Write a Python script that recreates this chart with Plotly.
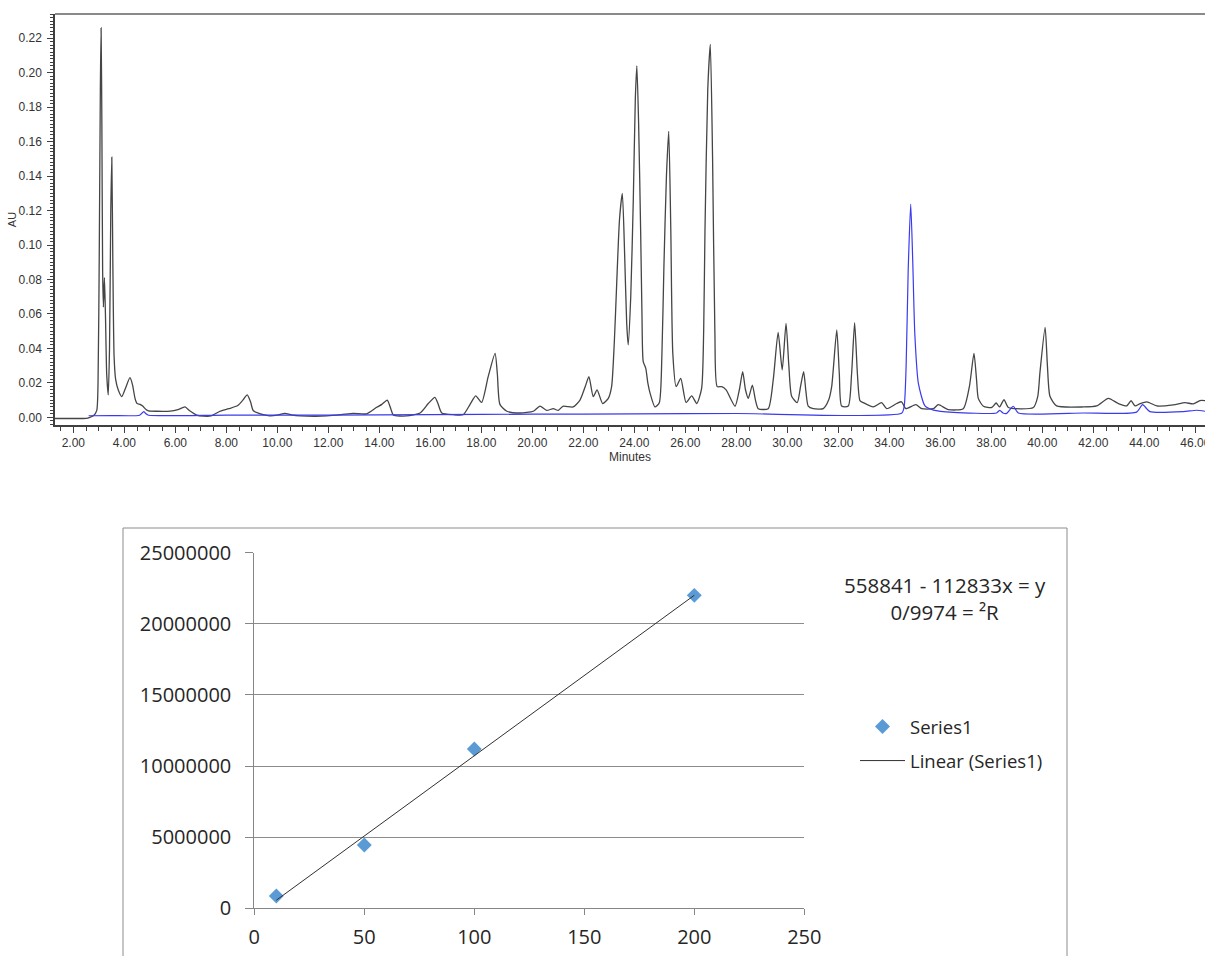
import plotly.graph_objects as go

# ---------------- Chromatogram data (minutes, AU) ----------------
black_t = [1.28, 2.0, 2.5, 2.65, 2.8, 2.92, 2.97, 3.02, 3.06, 3.09, 3.12, 3.15, 3.18, 3.22, 3.26, 3.31, 3.37,
           3.42, 3.47, 3.51, 3.55, 3.6, 3.66, 3.76, 3.9, 4.05, 4.22, 4.32, 4.42, 4.5, 4.62, 4.72, 4.85, 4.95,
           5.3, 5.8, 6.1, 6.38, 6.55, 6.84, 7.1, 7.4, 7.75, 8.1, 8.45, 8.65, 8.82, 8.95, 9.06, 9.45, 9.7, 10.0,
           10.3, 10.6, 10.9, 11.5, 11.94, 12.5, 12.98, 13.5, 13.9, 14.1, 14.31, 14.45, 14.55, 15.07, 15.6,
           15.92, 16.18, 16.3, 16.45, 16.9, 17.29, 17.56, 17.78, 18.01, 18.27, 18.54, 18.63, 18.73, 19.0,
           19.52, 20.04, 20.3, 20.56, 20.82, 21.02, 21.2, 21.6, 21.87, 22.08, 22.22, 22.39, 22.54, 22.76,
           22.98, 23.11, 23.22, 23.31, 23.42, 23.53, 23.62, 23.7, 23.76, 23.86, 23.96, 24.04, 24.1, 24.17,
           24.25, 24.3, 24.35, 24.45, 24.53, 24.62, 24.81, 24.98, 25.08, 25.16, 25.26, 25.35, 25.43, 25.51,
           25.64, 25.82, 26.03, 26.25, 26.45, 26.64, 26.72, 26.77, 26.88, 26.98, 27.07, 27.16, 27.25, 27.43,
           27.6, 27.95, 28.12, 28.25, 28.36, 28.47, 28.63, 28.75, 28.86, 29.25, 29.45, 29.64, 29.8, 29.95,
           30.06, 30.17, 30.39, 30.52, 30.64, 30.73, 30.82, 31.02, 31.41, 31.62, 31.74, 31.94, 32.04, 32.13,
           32.39, 32.52, 32.64, 32.75, 32.85, 32.98, 33.37, 33.7, 33.9, 34.29, 34.48, 34.65, 35.04, 35.27,
           35.73, 35.92, 36.31, 36.9, 37.14, 37.32, 37.42, 37.49, 37.69, 38.02, 38.19, 38.32, 38.5, 38.67,
           39.65, 39.82, 39.91, 40.11, 40.2, 40.3, 40.56, 41.61, 42.13, 42.59, 42.98, 43.31, 43.48, 43.64,
           43.84, 44.1, 44.49, 45.14, 45.6, 45.92, 46.18, 46.38]
black_au = [-0.0007, -0.0007, -0.0006, 0.0, 0.001, 0.004, 0.02, 0.1, 0.19, 0.226, 0.17, 0.085, 0.064, 0.081,
            0.06, 0.025, 0.013, 0.04, 0.12, 0.151, 0.09, 0.035, 0.022, 0.016, 0.012, 0.017, 0.023, 0.019,
            0.011, 0.008, 0.0075, 0.0065, 0.0045, 0.0037, 0.0035, 0.0036, 0.0045, 0.006, 0.004, 0.0013,
            0.0007, 0.0008, 0.0035, 0.005, 0.0068, 0.010, 0.013, 0.009, 0.0038, 0.0015, 0.0008, 0.0012,
            0.0023, 0.0012, 0.0008, 0.0006, 0.0008, 0.0015, 0.0023, 0.002, 0.0058, 0.0075, 0.010, 0.005,
            0.0013, 0.0008, 0.0025, 0.008, 0.0116, 0.008, 0.0025, 0.0015, 0.0015, 0.0075, 0.0124, 0.0086,
            0.0236, 0.0371, 0.025, 0.0075, 0.0035, 0.0025, 0.0035, 0.0065, 0.004, 0.005, 0.004, 0.0064,
            0.006, 0.010, 0.018, 0.0236, 0.012, 0.0159, 0.008, 0.011, 0.0178, 0.045, 0.0778, 0.115, 0.130,
            0.095, 0.055, 0.042, 0.07, 0.126, 0.185, 0.204, 0.17, 0.107, 0.06, 0.0323, 0.0284, 0.02, 0.0139,
            0.006, 0.0085, 0.035, 0.087, 0.14, 0.166, 0.11, 0.037, 0.0178, 0.0226, 0.0086, 0.0124, 0.008,
            0.0168, 0.05, 0.107, 0.19, 0.2165, 0.15, 0.0487, 0.0178, 0.0178, 0.0159, 0.0064, 0.016, 0.0265,
            0.016, 0.011, 0.0187, 0.01, 0.005, 0.005, 0.022, 0.0493, 0.0275, 0.0545, 0.03, 0.0122, 0.0085,
            0.018, 0.0265, 0.015, 0.0065, 0.005, 0.005, 0.01, 0.0178, 0.0507, 0.025, 0.0065, 0.0065, 0.025,
            0.0549, 0.025, 0.0097, 0.0085, 0.006, 0.0085, 0.005, 0.008, 0.009, 0.005, 0.0073, 0.005, 0.005,
            0.0073, 0.0045, 0.005, 0.0178, 0.0371, 0.022, 0.011, 0.0064, 0.0057, 0.0083, 0.006, 0.0102,
            0.0057, 0.0057, 0.012, 0.0264, 0.0522, 0.03, 0.0122, 0.0066, 0.006, 0.0066, 0.011, 0.008,
            0.0066, 0.0096, 0.0066, 0.008, 0.009, 0.0066, 0.0072, 0.0085, 0.0078, 0.0097, 0.0097]

blue_t = [2.6, 3.5, 4.6, 4.72, 4.77, 4.85, 4.95, 8.0, 12.0, 16.0, 20.0, 24.0, 28.0, 34.48, 34.58, 34.66,
          34.74, 34.84, 34.92, 35.0, 35.14, 35.4, 35.73, 36.5, 38.2, 38.33, 38.46, 38.6, 38.86, 39.06,
          41.61, 43.7, 43.93, 44.22, 45.53, 46.05, 46.38]
blue_au = [0.0009, 0.001, 0.0012, 0.0028, 0.0033, 0.002, 0.0012, 0.0013, 0.0013, 0.0016, 0.0018, 0.002,
           0.0022, 0.0023, 0.006, 0.03, 0.085, 0.1238, 0.09, 0.0485, 0.0197, 0.0066, 0.0042, 0.0029, 0.0025,
           0.004, 0.0025, 0.0023, 0.0064, 0.0025, 0.0025, 0.003, 0.0073, 0.0033, 0.0033, 0.0041, 0.0035]

# ---------------- Calibration data ----------------
conc = [10, 50, 100, 200]
area = [860000, 4450000, 11200000, 22000000]
trend_x = [10, 200]
trend_y = [569489, 22007759]
equation_lines = ["558841 - 112833x = y", "0/9974 = ²R"]

W, H = 1205, 956
def px(x):
    return x / W
def py(y):
    return 1 - y / H

fig = go.Figure()

fig.add_trace(go.Scatter(x=black_t, y=black_au, mode="lines",
                         line=dict(color="#454545", width=1.3, shape="spline", smoothing=0.6),
                         showlegend=False, xaxis="x", yaxis="y"))
fig.add_trace(go.Scatter(x=blue_t, y=blue_au, mode="lines",
                         line=dict(color="#3a3aee", width=1.2, shape="spline", smoothing=0.6),
                         showlegend=False, xaxis="x", yaxis="y"))

fig.add_trace(go.Scatter(x=conc, y=area, mode="markers", name="Series1",
                         marker=dict(symbol="diamond", size=11.5, color="#5b9bd5"),
                         xaxis="x2", yaxis="y2", legendgroup="a"))
fig.add_trace(go.Scatter(x=trend_x, y=trend_y, mode="lines", name="Linear (Series1)",
                         line=dict(color="#303030", width=1),
                         xaxis="x2", yaxis="y2", legendgroup="b"))

small = dict(family="Liberation Sans, Arial, sans-serif", size=12, color="#333333")
big = dict(family="Open Sans, sans-serif", size=20, color="#262626")

fig.update_layout(
    template="none",
    width=W, height=H, autosize=False,
    margin=dict(l=0, r=0, t=0, b=0, pad=0),
    paper_bgcolor="white", plot_bgcolor="white",
    xaxis=dict(domain=[px(55), 1.0], range=[1.282, 46.38], anchor="y", automargin=False,
               tick0=0, dtick=2, tickformat=".2f", ticks="outside", ticklen=6,
               tickcolor="#404040", showline=True, linecolor="#404040", linewidth=1.5,
               showgrid=False, zeroline=False, tickfont=small, ticklabeloverflow="allow",
               minor=dict(dtick=0.5, ticks="outside", ticklen=4, tickcolor="#404040", showgrid=False),
               title=dict(text="Minutes", font=small, standoff=0)),
    yaxis=dict(domain=[py(425), py(14)], range=[-0.00447, 0.2341], anchor="x", automargin=False,
               tick0=0, dtick=0.02, tickformat=".2f", ticks="outside", ticklen=6,
               tickcolor="#404040", showline=True, linecolor="#404040", linewidth=1.5,
               showgrid=False, zeroline=False, tickfont=small, ticklabelstandoff=3,
               minor=dict(dtick=0.002, ticks="outside", ticklen=3, tickcolor="#404040", showgrid=False),
               title=dict(text="AU", font=dict(family="Liberation Sans, Arial, sans-serif", size=11, color="#333333"), standoff=0)),
    xaxis2=dict(domain=[px(254.3), px(804.3)], range=[0, 250], anchor="y2", automargin=False,
                dtick=50, ticks="outside", ticklen=6, tickcolor="#868686",
                showline=True, linecolor="#868686", linewidth=1,
                showgrid=False, zeroline=False, tickfont=big, ticklabelstandoff=5),
    yaxis2=dict(domain=[py(908.3), py(552.7)], range=[0, 25000000], anchor="x2", automargin=False,
                dtick=5000000, tickformat="d", ticks="outside", ticklen=8, tickcolor="#868686",
                showline=True, linecolor="#868686", linewidth=1,
                showgrid=True, gridcolor="#8c8c8c", gridwidth=1, zeroline=False,
                tickfont=big, ticklabelstandoff=10),
    legend=dict(x=px(855), y=py(708), xanchor="left", yanchor="top",
                font=dict(family="Open Sans, sans-serif", size=18.5, color="#262626"),
                bgcolor="rgba(0,0,0,0)", tracegroupgap=7, traceorder="grouped", itemwidth=45),
    shapes=[
        dict(type="line", xref="paper", yref="paper", x0=px(55), x1=1.0, y0=py(14), y1=py(14),
             line=dict(color="#8a8a8a", width=2)),
        dict(type="rect", xref="paper", yref="paper", x0=px(123), x1=px(1067), y0=-0.05, y1=py(528),
             line=dict(color="#8c8c8c", width=1), fillcolor="rgba(0,0,0,0)", layer="below"),
    ],
    annotations=[
        dict(text="<br>".join(equation_lines), xref="paper", yref="paper",
             x=px(944.7), y=py(598), xanchor="center", yanchor="middle", showarrow=False,
             align="center", font=dict(family="Open Sans, sans-serif", size=20.5, color="#262626")),
    ],
)

fig.write_html("out.html", config={"displayModeBar": False},
               post_script="document.body.style.margin='0';")
